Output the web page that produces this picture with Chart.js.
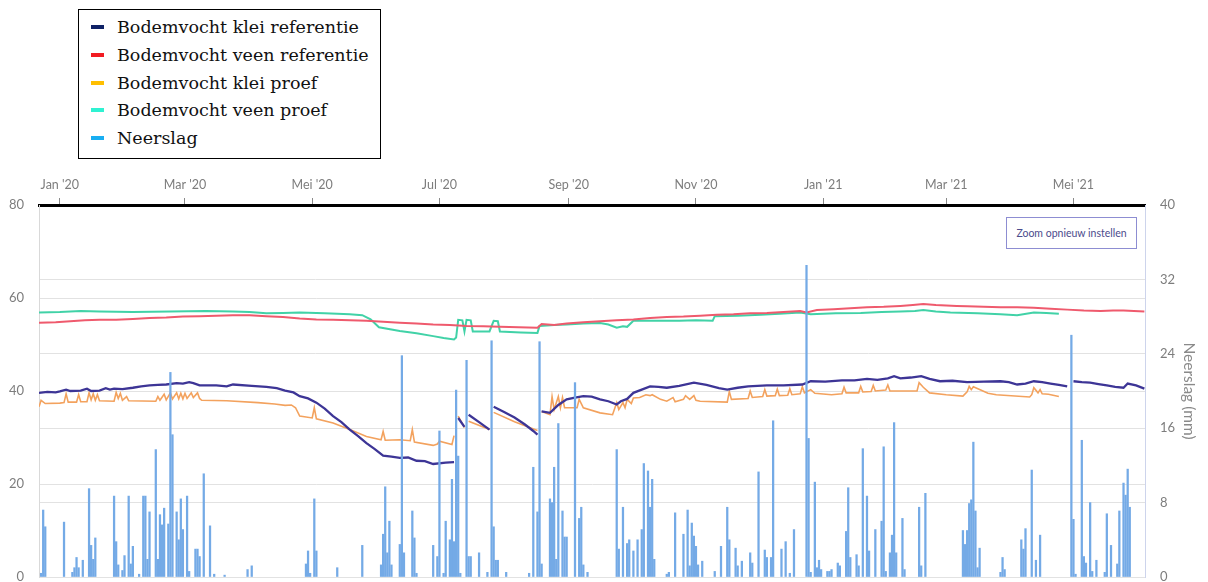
<!DOCTYPE html>
<html>
<head>
<meta charset="utf-8">
<script src="https://cdn.jsdelivr.net/npm/chart.js@4.4.1/dist/chart.umd.min.js"></script>
<style>
  html, body { margin: 0; padding: 0; background: #fff; }
  #wrap { position: relative; width: 1208px; height: 582px; overflow: hidden; }
  #chart { position: absolute; left: 0; top: 0; }
  #legend {
    position: absolute; left: 78px; top: 9px; width: 303px; height: 150px;
    box-sizing: border-box; border: 1px solid #000; background: #fff;
    font-family: "DejaVu Serif", serif; font-size: 17.5px; color: #111;
  }
  #legend .row { position: absolute; left: 0; height: 28px; line-height: 28px; white-space: nowrap; }
  #legend .sw { position: absolute; left: 12px; top: 12px; width: 13px; height: 4px; }
  #legend .tx { position: absolute; left: 38px; top: 0; }
  #resetZoom {
    position: absolute; left: 1006px; top: 217px; width: 131px; height: 32px;
    box-sizing: border-box; border: 1px solid #8d8dd2; background: #fff;
    font-family: Lato, sans-serif; font-size: 10.5px; color: #4b4b8c;
    text-align: center; line-height: 30px;
  }
</style>
</head>
<body>
<div id="wrap">
  <canvas id="chart" width="1208" height="582"></canvas>
  <div id="legend"></div>
  <div id="resetZoom">Zoom opnieuw instellen</div>
</div>
<script>
// Day numbers count from 1 January 2020.
const ORIGIN = Date.UTC(2020, 0, 1);
function dayOf(s) {
  const p = s.split('-').map(Number);
  return (Date.UTC(p[0], p[1] - 1, p[2]) - ORIGIN) / 86400000;
}

// Month ticks on the time axis
const tickDates  = ['2020-01-01','2020-03-01','2020-05-01','2020-07-01','2020-09-01','2020-11-01','2021-01-01','2021-03-01','2021-05-01'];
const tickLabels = ["Jan '20","Mar '20","Mei '20","Jul '20","Sep '20","Nov '20","Jan '21","Mar '21","Mei '21"];
const tickDays = tickDates.map(dayOf);

// Series labels and legend swatches
const seriesLabels  = ['Bodemvocht klei referentie','Bodemvocht veen referentie','Bodemvocht klei proef','Bodemvocht veen proef','Neerslag'];
const swatchColors  = ['#0f2266','#f21b22','#ffbf00','#2ff2d2','#19aef2'];
const lineColors    = ['#3d3596','#ef5a6d','#f3a25e','#41d2a7','#74aae6'];

// Soil moisture (%), [day, value]; null marks a gap in the record
const kleiReferentie = [
  [-10,39.6],[-6,39.8],[-2,39.7],[0,39.9],[3,40.3],[5,40.0],[10,40.1],[13,40.5],[15,40.0],[19,40.1],[22,40.6],[24,40.3],
  [26,40.5],[30,40.4],[35,40.7],[39,41.0],[43,41.2],[47,41.3],[51,41.4],[56,41.7],[59,41.6],[62,41.9],[64,41.7],
  [67,41.2],[75,41.2],[80,41.0],[83,41.4],[92,41.1],[99,40.9],[104,40.6],[108,40.1],[112,39.7],[115,38.9],[119,38.4],
  [123,37.5],[127,36.2],[131,34.6],[135,33.3],[139,31.7],[143,30.3],[147,28.8],[151,27.5],
  [155,26.1],[159,25.9],[163,25.6],[167,25.7],[171,25.0],[175,24.9],[179,24.3],[185,24.6],[189,24.7],[190,null],
  [191,34.2],[194,32.3],[195,null],[196,34.9],[201,33.3],[206,31.7],[207,null],[208,36.6],[213,35.5],[218,34.3],
  [223,32.8],[227,31.4],[229,30.6],[230,null],
  [231,35.6],[235,35.3],[239,37.0],[243,38.2],[247,38.6],[251,38.9],[255,38.8],[259,38.2],[263,37.8],[267,37.1],
  [269,37.8],[272,38.3],[275,39.6],[279,40.3],[283,41.0],[287,40.9],[291,40.7],[297,41.1],[304,41.8],[310,41.3],
  [316,40.6],[320,40.3],[325,40.7],[330,41.0],[339,41.2],[347,41.2],[356,41.4],[360,42.1],[367,42.0],[375,42.3],
  [381,42.3],[387,42.6],[392,42.4],[397,42.7],[400,43.2],[403,42.7],[408,42.9],[413,43.2],[417,42.6],[422,42.1],
  [428,42.2],[435,41.9],[443,42.0],[451,42.1],[455,41.9],[459,41.4],[463,41.6],[467,42.1],[471,41.9],[475,41.6],
  [479,41.3],[483,41.0],[484,null],
  [486,42.1],[490,41.9],[494,41.8],[498,41.5],[502,41.2],[506,40.9],[510,40.7],[512,41.6],[516,41.2],[520,40.5]
];
const veenReferentie = [
  [-10,54.7],[-2,54.8],[5,55.0],[12,55.2],[19,55.3],[27,55.3],[35,55.5],[43,55.7],[51,55.8],[59,56.0],[67,56.1],
  [75,56.2],[83,56.3],[91,56.3],[99,56.1],[107,55.9],[115,55.6],[123,55.4],[131,55.3],[139,55.2],[147,55.1],
  [155,54.9],[163,54.7],[171,54.5],[179,54.3],[187,54.2],[195,54.0],[203,53.9],[211,53.8],[220,53.7],[229,53.6],
  [231,54.4],[237,54.2],[243,54.5],[251,54.8],[259,55.0],[267,55.2],[275,55.4],[283,55.7],[291,55.9],[299,56.0],
  [307,56.2],[315,56.4],[323,56.5],[331,56.7],[339,56.8],[347,57.0],[355,57.2],[358,56.9],[363,57.4],[371,57.6],
  [379,57.8],[387,58.0],[395,58.1],[403,58.3],[409,58.5],[414,58.7],[420,58.5],[425,58.4],[430,58.3],[435,58.2],
  [443,58.1],[451,58.0],[459,58.0],[467,57.9],[475,57.7],[483,57.5],[491,57.3],[499,57.2],[505,57.3],[510,57.3],
  [515,57.2],[520,57.1]
];
const kleiProef = [
  [-10,36.6],[-9,38.0],[-7,37.3],[0,37.4],[2,37.5],[3,39.4],[4,37.6],[8,37.6],[9,39.2],[10,37.7],[13,37.7],[14,39.6],
  [15,38.1],[16,39.4],[17,38.0],[18,39.2],[19,37.9],[26,37.8],[27,39.7],[28,38.4],[29,39.5],[30,38.0],[32,38.8],[33,37.9],
  [46,37.8],[47,38.8],[48,38.0],[50,39.3],[51,38.1],[53,39.6],[54,38.3],[56,39.6],[57,38.3],[58,39.5],[59,38.3],
  [60,39.5],[61,38.4],[63,39.6],[64,38.6],[66,39.6],[67,38.4],[68,38.0],[80,37.9],[95,37.5],[103,37.2],[108,36.9],
  [111,37.0],[113,36.4],[115,34.6],[121,34.2],[122,36.4],[123,34.0],[131,33.1],[139,31.7],[147,30.2],[154,29.5],
  [155,31.3],[156,29.4],[163,29.5],[168,29.3],[169,31.7],[170,29.0],[179,28.3],[181,28.6],[182,29.2],[188,28.5],
  [189,30.4],[190,null],
  [191,34.6],[194,32.1],[195,null],[196,33.5],[206,31.7],[207,null],[208,35.4],[218,33.4],[229,31.5],[230,null],
  [231,35.6],[235,34.9],[236,38.8],[237,36.0],[239,38.8],[240,36.4],[241,38.6],[242,36.4],[248,36.4],[249,38.2],
  [251,36.4],[259,35.3],[265,34.9],[267,37.5],[268,36.0],[270,37.5],[271,36.4],[272,38.2],[274,37.3],[275,38.5],
  [278,38.6],[281,39.2],[283,39.0],[284,39.2],[288,38.2],[291,37.8],[294,38.6],[295,37.7],[299,38.2],[300,39.0],
  [302,38.2],[304,39.0],[305,38.0],[307,37.8],[320,37.6],[321,39.9],[322,38.2],[330,38.4],[331,40.0],[332,38.6],
  [337,38.8],[338,40.3],[339,38.9],[343,39.0],[344,40.4],[345,39.0],[349,39.1],[350,40.5],[351,39.2],[355,39.4],
  [356,40.9],[357,39.6],[360,40.3],[362,39.5],[370,39.2],[375,39.4],[376,40.8],[377,39.6],[383,39.6],[384,41.0],
  [385,39.8],[389,39.9],[390,41.2],[391,40.0],[396,40.2],[397,41.3],[398,40.0],[403,40.0],[411,40.0],[412,41.8],
  [414,40.8],[417,39.6],[425,39.2],[433,38.9],[435,39.8],[436,41.0],[437,40.3],[438,40.9],[441,40.3],[445,39.5],
  [449,39.2],[465,38.7],[466,39.2],[467,40.7],[469,39.6],[470,40.3],[471,39.4],[474,39.3],[479,38.8]
];
const veenProef = [
  [-10,56.9],[0,57.0],[10,57.2],[19,57.1],[35,57.0],[53,57.1],[70,57.2],[83,57.1],[91,57.0],[99,56.7],[107,56.8],
  [115,56.9],[127,56.7],[139,56.5],[145,56.3],[149,55.4],[153,53.7],
  [163,52.9],[171,52.4],[179,51.8],[184,51.4],[189,51.1],[190,51.5],[191,55.3],[193,55.2],[194,52.8],[195,55.3],[197,55.2],[198,52.8],
  [206,52.8],[208,55.1],[210,55.0],[211,52.8],[221,52.6],[229,52.5],[230,54.0],[237,54.2],[243,54.3],[251,54.5],
  [259,54.6],[263,54.3],[267,53.6],[270,53.9],[272,53.8],[275,55.1],[285,55.1],[297,55.1],[305,55.2],[313,55.1],
  [314,56.1],[325,56.2],[336,56.4],[345,56.6],[355,56.9],[360,56.5],[372,56.7],[384,56.8],[394,57.0],[403,57.1],
  [410,57.2],[414,57.4],[420,57.1],[427,56.9],[440,56.7],[451,56.5],[459,56.3],[467,56.9],[473,56.8],[479,56.6]
];

// Daily precipitation (mm)
const rainDays = [
  -9,-8,-7,2,6,7,8,9,11,14,15,16,17,26,27,28,30,31,33,34,35,38,40,41,42,43,46,47,48,49,50,52,53,54,56,57,58,59,61,62,65,66,67,69,72,74,79,90,92,
  118,119,120,122,123,133,145,154,155,156,157,158,159,163,164,165,169,170,171,179,181,182,184,185,187,188,189,190,191,192,195,196,197,201,205,207,208,209,210,214,225,227,229,230,231,235,236,237,238,239,241,242,243,247,249,250,251,253,
  267,268,270,272,273,275,277,279,280,282,283,284,285,291,292,295,299,301,302,303,304,305,306,308,314,317,320,321,324,325,327,331,332,335,338,339,341,342,346,348,350,352,358,359,360,362,363,364,365,368,369,370,373,374,377,378,379,382,383,385,387,388,391,394,395,396,398,399,400,401,
  404,405,412,413,415,433,434,435,436,437,438,439,440,441,451,452,453,461,462,463,466,468,470,485,486,487,490,491,492,494,495,497,501,502,504,507,508,510,511,512,513
];
const rainMm = [
  0.4,7.2,5.4,5.9,0.5,1.0,2.1,1.0,1.8,9.5,3.4,1.9,4.2,8.7,3.8,1.3,0.7,2.3,8.7,1.4,3.3,0.3,8.7,8.7,1.9,7.0,13.7,1.9,6.7,5.6,7.4,5.7,22.0,15.3,7.0,4.0,8.4,5.1,8.7,0.6,3.0,3.0,2.2,11.1,5.5,0.3,0.2,0.8,1.2,
  1.4,2.8,0.4,8.4,2.8,1.0,3.4,1.3,4.6,9.7,2.6,6.0,1.3,3.5,23.8,2.6,7.1,4.2,0.4,3.4,2.2,15.7,0.4,6.0,4.0,10.5,3.8,20.1,13.0,0.4,23.3,2.2,2.2,2.6,0.5,25.4,5.4,1.8,1.8,0.5,0.4,11.8,7.0,25.3,1.4,8.4,8.0,11.8,1.9,16.5,7.1,4.3,4.3,20.9,6.3,7.5,1.3,0.5,
  13.7,3.0,7.5,3.6,4.0,2.8,4.0,5.1,12.2,11.4,7.5,10.5,1.9,0.3,0.5,6.9,4.6,7.2,1.2,5.8,4.4,3.3,1.3,1.7,0.6,3.3,7.5,4.0,3.1,1.2,1.7,2.6,1.5,11.3,2.9,2.1,2.1,16.8,3.0,3.8,0.4,5.1,33.5,14.9,0.5,10.2,1.0,1.8,0.8,0.6,0.6,0.8,1.5,1.2,4.9,9.6,2.1,2.4,1.2,13.8,8.7,2.8,5.1,6.0,14.0,0.6,2.6,4.5,16.6,2.6,
  6.3,0.8,7.5,1.2,9.0,5.0,3.5,5.0,7.9,8.3,14.5,7.1,1.0,3.1,0.5,2.1,0.8,4.0,3.0,5.2,11.5,1.8,4.5,26.0,6.2,0.3,14.7,2.2,1.5,8.0,0.6,1.8,0.5,6.8,3.4,1.4,7.1,10.1,8.8,11.6,7.5
];

const toPoints = arr => arr.map(p => ({ x: p[0], y: p[1] }));
const moistureSeries = [kleiReferentie, veenReferentie, kleiProef, veenProef];
const lineWidths = [2.3, 2, 1.6, 2];

const datasets = moistureSeries.map((s, i) => ({
  type: 'line',
  label: seriesLabels[i],
  data: toPoints(s),
  yAxisID: 'y',
  borderColor: lineColors[i],
  backgroundColor: lineColors[i],
  borderWidth: lineWidths[i],
  pointRadius: 0,
  tension: 0,
  spanGaps: false,
  order: 1
}));
datasets.push({
  type: 'bar',
  label: seriesLabels[4],
  data: rainDays.map((d, i) => ({ x: d, y: rainMm[i] })),
  yAxisID: 'y1',
  backgroundColor: lineColors[4],
  barThickness: 1.6,
  order: 0
});

const fontFamily = "Lato, 'Open Sans', sans-serif";

// Fixed gutter widths; the value axes do not reserve extra space above or below the plot
function fixVertical(width) {
  return s => { s.width = width; s.paddingTop = 0; s.paddingBottom = 0; };
}

const chart = new Chart(document.getElementById('chart'), {
  type: 'line',
  data: { datasets },
  options: {
    responsive: false,
    animation: false,
    devicePixelRatio: 1,
    layout: { autoPadding: false, padding: { left: 0, right: 0, top: 0, bottom: 5 } },
    plugins: { legend: { display: false }, tooltip: { enabled: false } },
    events: [],
    scales: {
      x: {
        type: 'linear',
        position: 'top',
        min: -10,
        max: 520.3,
        offset: false,
        afterFit(s) { s.height = 205; s.paddingLeft = 0; s.paddingRight = 0; },
        afterBuildTicks(s) { s.ticks = tickDays.map(v => ({ value: v })); },
        ticks: {
          autoSkip: false, maxRotation: 0, padding: 6, color: '#7d7d7d',
          font: { family: fontFamily, size: 12.5 },
          callback(v, i) { return tickLabels[i]; }
        },
        grid: { offset: false, drawOnChartArea: false, drawTicks: true, tickLength: 7, color: '#8a8a8a' },
        border: { display: true, color: '#000', width: 3 }
      },
      y: {
        position: 'left',
        min: 0, max: 80,
        afterFit: fixVertical(39),
        ticks: { stepSize: 20, padding: 15, color: '#7d7d7d', font: { family: fontFamily, size: 13 } },
        grid: { color: '#e2e2e2', drawTicks: false },
        border: { display: true, color: '#d9d9d9' }
      },
      y1: {
        position: 'right',
        min: 0, max: 40,
        afterFit: fixVertical(63),
        ticks: { stepSize: 8, padding: 15, color: '#7d7d7d', font: { family: fontFamily, size: 13 } },
        grid: { color: '#e2e2e2', drawTicks: false },
        border: { display: true, color: '#cdd4ec' },
        title: {
          display: true, text: 'Neerslag (mm)', color: '#8a8a8a',
          font: { family: fontFamily, size: 15.5 }, padding: { top: 10, bottom: 0 }
        }
      }
    }
  }
});

// Legend box built from the chart's datasets
const legendEl = document.getElementById('legend');
chart.data.datasets.forEach((ds, i) => {
  const row = document.createElement('div');
  row.className = 'row';
  row.style.top = (3 + i * 27.75) + 'px';
  const sw = document.createElement('span');
  sw.className = 'sw';
  sw.style.background = swatchColors[i];
  const tx = document.createElement('span');
  tx.className = 'tx';
  tx.textContent = ds.label;
  row.appendChild(sw);
  row.appendChild(tx);
  legendEl.appendChild(row);
});
</script>
</body>
</html>
